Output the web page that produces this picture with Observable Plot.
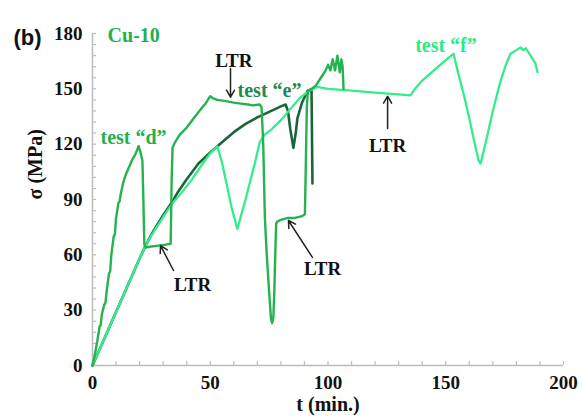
<!DOCTYPE html>
<html>
<head>
<meta charset="utf-8">
<script src="https://cdn.jsdelivr.net/npm/d3@7"></script>
<script src="https://cdn.jsdelivr.net/npm/@observablehq/plot@0.6"></script>
<style>
  html, body { margin: 0; padding: 0; background: #fff; }
</style>
</head>
<body>
<div id="chart"></div>
<script>
// ---- data: [t (min), sigma (MPa)] ----
const testD = [
  [0,0],[1,6],[2,13],[3,21],[3.5,22],[4,28],[5,33],[5.5,34],[6,40],[7,50],[7.5,51],[8,60],[9,70],[9.5,71],
  [10,80],[11,88],[11.5,89],[12,93],[13,99],[14,103],[15,106],[16,109],[17,112],[18,114],[19,117],
  [19.6,119],[20.3,116],[21.2,111],[21.6,90],[22,66],[22.5,64],[25,64.5],[28,65],[31,65.5],[33.2,66],
  [33.6,100],[34,118],[35,121],[37,125],[40,129],[43,134],[46,139],[48,142],[50,146],[51,145],[53,144],
  [56,143.5],[60,142.5],[63,142],[66,141.5],[68,141],[71,141.5],[71.8,140],[72.5,120],[73.2,80],
  [74,60],[75,40],[75.8,25],[76.3,23],[76.8,26],[77.2,40],[77.6,60],[78,77],[78.5,78],[80,79],
  [83,80],[86,80],[89,81],[90.2,82],[90.6,110],[91,140],[91.5,149],[93,150],[95,152],[97,156],
  [99,160],[100,163],[101,160],[102,166],[103,160],[104,168],[105,159],[105.7,166],[106.2,162],[106.6,150]
];
const testE = [
  [0,0],[5,14.5],[10,29],[15,43.5],[20,58],[22,63.5],[25,71],[30,81.5],[34,89],[36,93.5],[40,101],
  [45,109.5],[50,115.5],[55,121],[60,126.5],[65,131],[70,134.5],[75,137.5],[80,140.5],[82,141.5],
  [83,138],[84,128],[85.3,118],[86.3,126],[87,134],[89,142.6],[91.3,149],[93,149.5],[93.4,98.7]
];
const testF = [
  [0,0],[5,14.5],[10,29],[15,43.5],[20,58],[22,63.5],[25,70.5],[30,80.5],[34,88],[38,94],[42,100.5],
  [46,108],[50,115],[53,118.8],[55,110],[57,98],[59,86],[61.5,74],[63,81],[65,90],[67,100],[69,110],
  [71,121],[73,125],[76,128],[80,133],[84,139],[88,145],[92,149],[95.5,151],[100,150],[110,149],
  [120,148],[130,147],[135,146.5],[137,150],[140,154.5],[145,160],[150,165.5],[153.3,169],[155,160],
  [158,145],[160,134],[162,122],[164,111],[164.8,109.5],[167,121],[170,138],[173,153],[175.5,163],
  [177.5,169],[180,171],[181.7,172.5],[183,171],[184,172],[186,168],[188,164],[189,159]
];
const yMajor = [0, 30, 60, 90, 120, 150, 180];
const yMinor = d3.range(0, 181, 6);
const xMajor = [0, 50, 100, 150, 200];
const xMinor = d3.range(0, 201, 10);
const seriesLabels = [
  {t: 6.4, s: 179, text: "Cu-10", color: "#22b04c"},
  {t: 3.4, s: 123.6, text: "test \u201cd\u201d", color: "#24b04e"},
  {t: 61.6, s: 149, text: "test \u201ce\u201d", color: "#1e8a4d"},
  {t: 137, s: 173.5, text: "test \u201cf\u201d", color: "#30e888"}
];
const ltrLabels = [
  {t: 60, s: 165.4, text: "LTR"},
  {t: 125.3, s: 119.3, text: "LTR"},
  {t: 42.5, s: 43.9, text: "LTR"},
  {t: 97.7, s: 52.6, text: "LTR"}
];
const arrows = [
  {t1: 58.6, s1: 161, t2: 58.6, s2: 145.5},
  {t1: 125.3, s1: 128.5, t2: 125.3, s2: 146},
  {t1: 34.4, s1: 51.5, t2: 28.9, s2: 65},
  {t1: 93.4, s1: 58.6, t2: 83.2, s2: 78.6}
];

const serif = "'Liberation Serif', 'Times New Roman', serif";
const axisGrey = "#bcbcbc";

const chart = Plot.plot({
  width: 582,
  height: 418,
  marginLeft: 92,
  marginRight: 19,
  marginTop: 33,
  marginBottom: 53,
  style: {fontFamily: serif, fontSize: "19px", fontWeight: "bold", color: "#111", background: "#fff"},
  x: {domain: [0, 200]},
  y: {domain: [0, 180]},
  marks: [
    Plot.ruleY([0], {stroke: axisGrey, strokeWidth: 1.5}),
    Plot.ruleX([0], {stroke: axisGrey, strokeWidth: 1.5}),
    Plot.axisY(yMinor, {tickSize: 4, dx: 4, tickFormat: () => "", stroke: axisGrey, strokeWidth: 1.2, label: null}),
    Plot.axisX(xMinor, {tickSize: 4, dy: -4, tickFormat: () => "", stroke: axisGrey, strokeWidth: 1.2, label: null}),
    Plot.axisY(yMajor, {tickSize: 0, tickPadding: 10, label: null, fill: "#111", fontSize: 19}),
    Plot.axisX(xMajor, {tickSize: 0, tickPadding: 10, label: null, fill: "#111", fontSize: 19}),
    Plot.line(testE, {x: d => d[0], y: d => d[1], stroke: "#1b6639", strokeWidth: 2.6}),
    Plot.line(testF, {x: d => d[0], y: d => d[1], stroke: "#35ec8b", strokeWidth: 2.3}),
    Plot.line(testD, {x: d => d[0], y: d => d[1], stroke: "#26b24e", strokeWidth: 2.4}),
    Plot.arrow(arrows, {x1: "t1", y1: "s1", x2: "t2", y2: "s2", stroke: "#222", strokeWidth: 1.5, headLength: 8}),
    Plot.text(seriesLabels, {x: "t", y: "s", text: "text", fill: "color", textAnchor: "start", fontSize: 20, fontWeight: "bold"}),
    Plot.text(ltrLabels, {x: "t", y: "s", text: "text", fill: "#111", textAnchor: "middle", fontSize: 19, fontWeight: "bold"}),
    Plot.text(["t (min.)"], {frameAnchor: "bottom", dy: 45, text: d => d, fontSize: 20, fontWeight: "bold", fill: "#111"}),
    Plot.text(["\u03c3 (MPa)"], {frameAnchor: "left", dx: -57, rotate: -90, text: d => d, fontSize: 20, fontWeight: "bold", fill: "#111"}),
    Plot.text(["(b)"], {frameAnchor: "top-left", dx: -79, dy: -4, textAnchor: "start", text: d => d, fontSize: 22, fontWeight: "bold", fontFamily: "'Liberation Sans', Arial, sans-serif", fill: "#111"})
  ]
});
document.getElementById("chart").appendChild(chart);
</script>
</body>
</html>
